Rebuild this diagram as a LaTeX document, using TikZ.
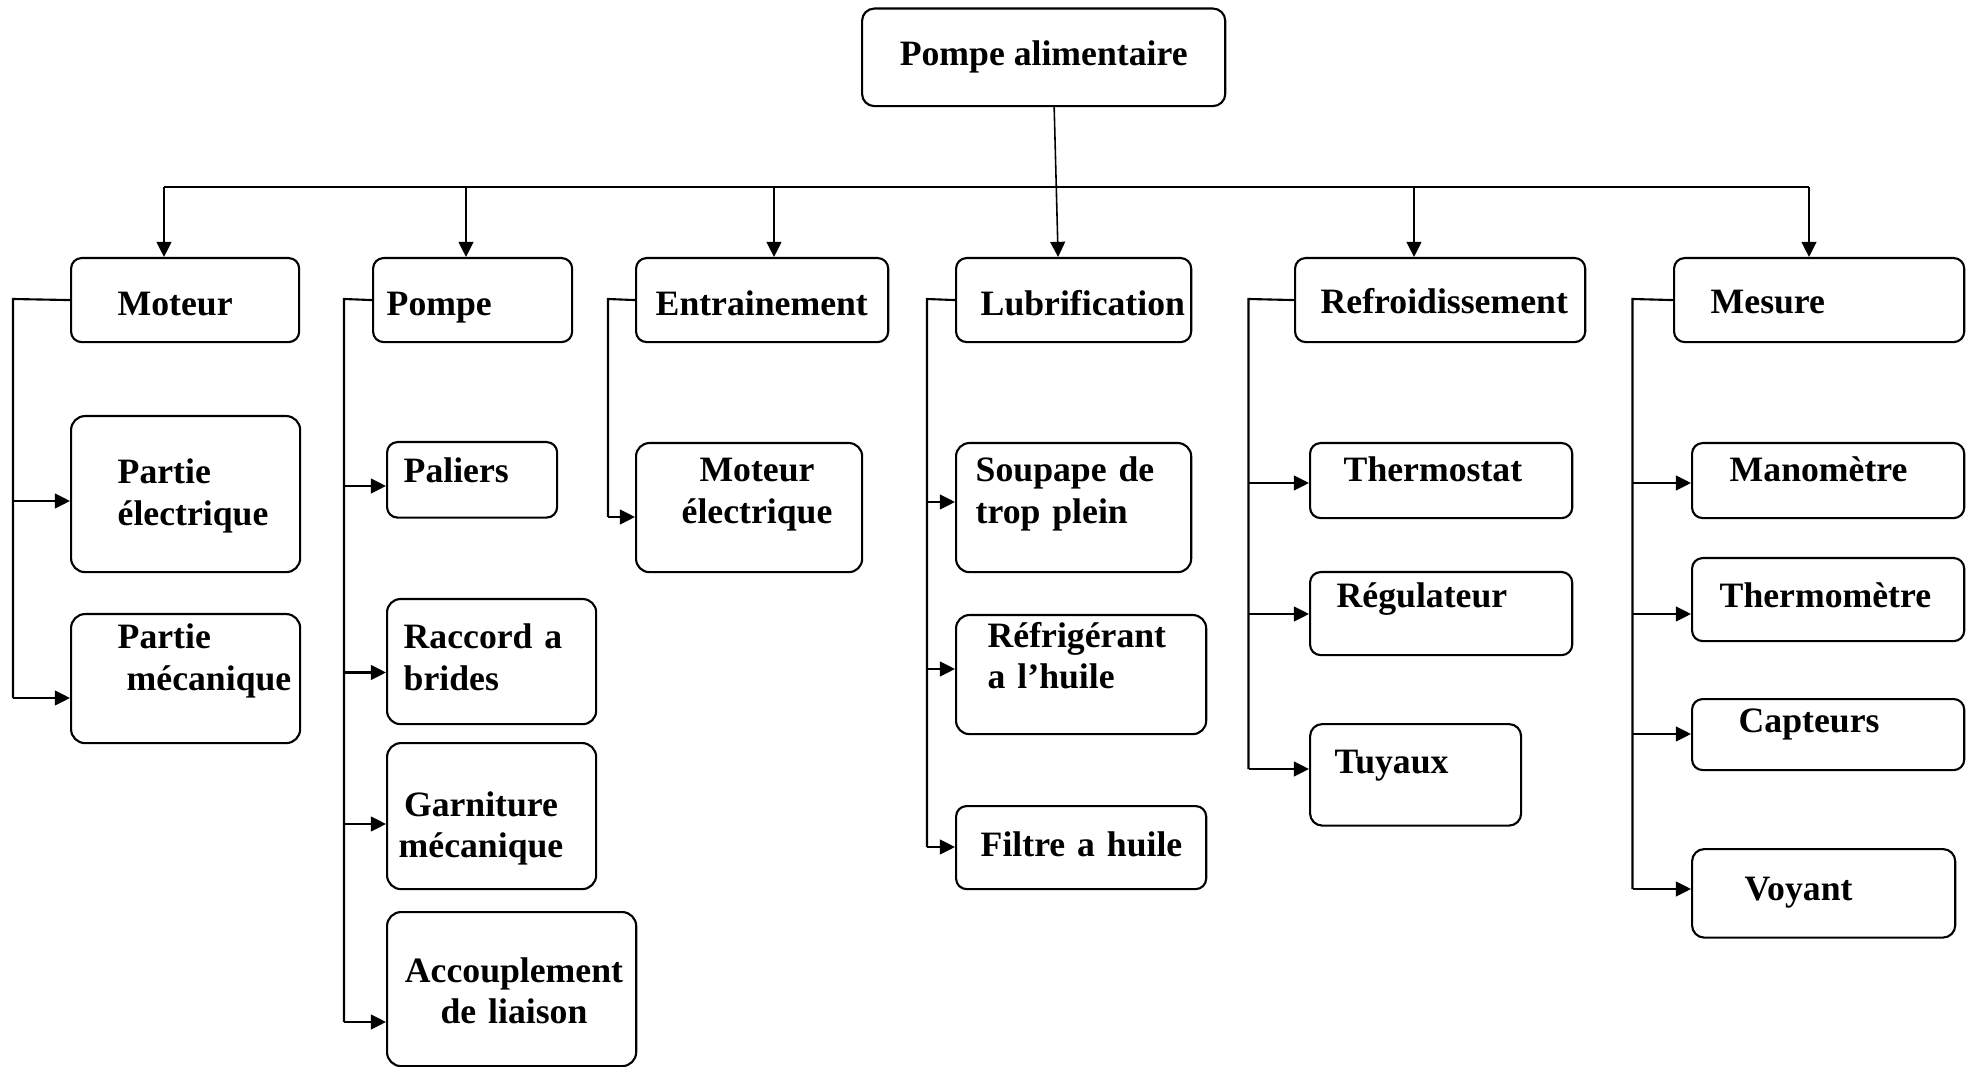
\documentclass[tikz,border=0pt]{standalone}
\usepackage{fontspec}
\setmainfont{Liberation Serif}
\usetikzlibrary{arrows.meta}
\hyphenpenalty=10000

\begin{document}
\begin{tikzpicture}[x=0.01cm, y=-0.01cm,
  font=\fontsize{10.15pt}{11.7pt}\selectfont\bfseries,
  box/.style={draw, line width=0.6pt, rounded corners=3pt, anchor=north west, inner sep=0pt},
  txt/.style={inner sep=0pt, anchor=base west, align=left, text width=2.7cm},
  txtc/.style={txt, anchor=base, align=center},
  lien/.style={line width=0.6pt},
  arr/.style={lien, -{Triangle[length=4.3pt,width=4.2pt]}}]
\useasboundingbox (0,0) rectangle (1966,1067);
%
\node[box, minimum width=3.63cm, minimum height=0.975cm, rounded corners=3.5pt] (root) at (861,7.5) {Pompe alimentaire};
%
\node[box, minimum width=2.28cm, minimum height=0.84cm] (moteur) at (70,257) {};
\node[box, minimum width=1.99cm, minimum height=0.84cm] (pompe) at (372,257) {};
\node[box, minimum width=2.52cm, minimum height=0.84cm] (entrain) at (635,257) {};
\node[box, minimum width=2.35cm, minimum height=0.84cm] (lubri) at (955,257) {};
\node[box, minimum width=2.90cm, minimum height=0.84cm] (refroid) at (1294,257) {};
\node[box, minimum width=2.90cm, minimum height=0.84cm] (mesure) at (1673,257) {};
\node[txt] (moteur-t) at (117,316) {Moteur};
\node[txt] (pompe-t) at (386,316) {Pompe};
\node[txt] (entrain-t) at (655,316) {Entrainement};
\node[txt] (lubri-t) at (980,316) {Lubrification};
\node[txt] (refroid-t) at (1320,314) {Refroidissement};
\node[txt] (mesure-t) at (1710,314) {Mesure};
%
\node[box, minimum width=2.29cm, minimum height=1.56cm, rounded corners=4pt] (pelec) at (70,415) {};
\node[box, minimum width=2.29cm, minimum height=1.29cm, rounded corners=4pt] (pmeca) at (70,613) {};
\node[txt] (pelec-t) at (117,484) {Partie\\électrique};
\node[txt] (pmeca-t) at (117,649) {Partie\\\hspace*{0.09cm}mécanique};
%
\node[box, minimum width=1.70cm, minimum height=0.755cm] (paliers) at (386,441) {};
\node[box, minimum width=2.09cm, minimum height=1.25cm, rounded corners=3.8pt] (raccord) at (386,598) {};
\node[box, minimum width=2.09cm, minimum height=1.46cm, rounded corners=4pt] (garnit) at (386,742) {};
\node[box, minimum width=2.49cm, minimum height=1.54cm, rounded corners=4pt] (accoupl) at (386,911) {};
\node[txt] (paliers-t) at (403,482.6) {Paliers};
\node[txt] (raccord-t) at (403,649) {Raccord a\\brides};
\node[txtc] (garnit-t) at (481,816.5) {Garniture\\mécanique};
\node[txtc] (accoupl-t) at (514,982.6) {Accouplement\\de liaison};
%
\node[box, minimum width=2.26cm, minimum height=1.29cm, rounded corners=3.8pt] (motelec) at (635,442) {};
\node[txtc] (motelec-t) at (757,482) {Moteur\\électrique};
%
\node[box, minimum width=2.35cm, minimum height=1.29cm, rounded corners=3.8pt] (soupape) at (955,442) {};
\node[box, minimum width=2.50cm, minimum height=1.19cm, rounded corners=3.8pt] (refrig) at (955,614) {};
\node[box, minimum width=2.50cm, minimum height=0.83cm] (filtre) at (955,805) {};
\node[txt] (soupape-t) at (975,482) {Soupape de\\trop plein};
\node[txt] (refrig-t) at (987,647) {Réfrigérant\\a l’huile};
\node[txt] (filtre-t) at (980,856.6) {Filtre a huile};
%
\node[box, minimum width=2.62cm, minimum height=0.75cm] (thermostat) at (1309,442) {};
\node[box, minimum width=2.62cm, minimum height=0.83cm] (regul) at (1309,571) {};
\node[box, minimum width=2.11cm, minimum height=1.015cm, rounded corners=3.5pt] (tuyaux) at (1309,723) {};
\node[txt] (thermostat-t) at (1343,482) {Thermostat};
\node[txt] (regul-t) at (1336,607) {Régulateur};
\node[txt] (tuyaux-t) at (1334,773.5) {Tuyaux};
%
\node[box, minimum width=2.72cm, minimum height=0.75cm] (mano) at (1691,442) {};
\node[box, minimum width=2.72cm, minimum height=0.83cm] (thermo) at (1691,557) {};
\node[box, minimum width=2.72cm, minimum height=0.71cm] (capteurs) at (1691,698) {};
\node[box, minimum width=2.63cm, minimum height=0.885cm, rounded corners=3.5pt] (voyant) at (1691,848) {};
\node[txt] (mano-t) at (1729,482) {Manomètre};
\node[txt] (thermo-t) at (1719,607) {Thermomètre};
\node[txt] (capteurs-t) at (1738,732) {Capteurs};
\node[txt] (voyant-t) at (1744,900) {Voyant};
%
\coordinate (b1) at (164,187);
\coordinate (b2) at (466,187);
\coordinate (b3) at (774,187);
\coordinate (b5) at (1414,187);
\coordinate (b6) at (1809,187);
\draw[lien] (b1) -- (b6);
\draw[arr, line width=0.45pt] ([xshift=0.105cm]root.south) -- ([xshift=-0.155cm]lubri.north);
\draw[arr] (b1) -- (b1 |- moteur.north);
\draw[arr] (b2) -- (b2 |- pompe.north);
\draw[arr] (b3) -- (b3 |- entrain.north);
\draw[arr] (b5) -- (b5 |- refroid.north);
\draw[arr] (b6) -- (b6 |- mesure.north);
%
\coordinate (m0) at (13,299);
\coordinate (m1) at (13,501);
\coordinate (m2) at (13,698);
\draw[lien] (moteur.west) -- (m0) -- (m2);
\draw[arr] (m1) -- (m1 -| pelec.west);
\draw[arr] (m2) -- (m2 -| pmeca.west);
%
\coordinate (p0) at (344,299);
\coordinate (p1) at (344,486);
\coordinate (p2) at (344,672.5);
\coordinate (p3) at (344,824);
\coordinate (p4) at (344,1022);
\draw[lien] (pompe.west) -- (p0) -- (p4);
\draw[arr] (p1) -- (p1 -| paliers.west);
\draw[arr] (p2) -- (p2 -| raccord.west);
\draw[arr] (p3) -- (p3 -| garnit.west);
\draw[arr] (p4) -- (p4 -| accoupl.west);
%
\coordinate (e0) at (608,299);
\coordinate (e1) at (608,517);
\draw[lien] (entrain.west) -- (e0) -- (e1);
\draw[arr] (e1) -- (e1 -| motelec.west);
%
\coordinate (l0) at (927,299);
\coordinate (l1) at (927,502);
\coordinate (l2) at (927,669);
\coordinate (l3) at (927,847);
\draw[lien] (lubri.west) -- (l0) -- (l3);
\draw[arr] (l1) -- (l1 -| soupape.west);
\draw[arr] (l2) -- (l2 -| refrig.west);
\draw[arr] (l3) -- (l3 -| filtre.west);
%
\coordinate (r0) at (1248.5,299);
\coordinate (r1) at (1248.5,483);
\coordinate (r2) at (1248.5,614);
\coordinate (r3) at (1248.5,769);
\draw[lien] (refroid.west) -- (r0) -- (r3);
\draw[arr] (r1) -- (r1 -| thermostat.west);
\draw[arr] (r2) -- (r2 -| regul.west);
\draw[arr] (r3) -- (r3 -| tuyaux.west);
%
\coordinate (s0) at (1632.5,299);
\coordinate (s1) at (1632.5,483);
\coordinate (s2) at (1632.5,614);
\coordinate (s3) at (1632.5,734);
\coordinate (s4) at (1632.5,889);
\draw[lien] (mesure.west) -- (s0) -- (s4);
\draw[arr] (s1) -- (s1 -| mano.west);
\draw[arr] (s2) -- (s2 -| thermo.west);
\draw[arr] (s3) -- (s3 -| capteurs.west);
\draw[arr] (s4) -- (s4 -| voyant.west);
\end{tikzpicture}
\end{document}
